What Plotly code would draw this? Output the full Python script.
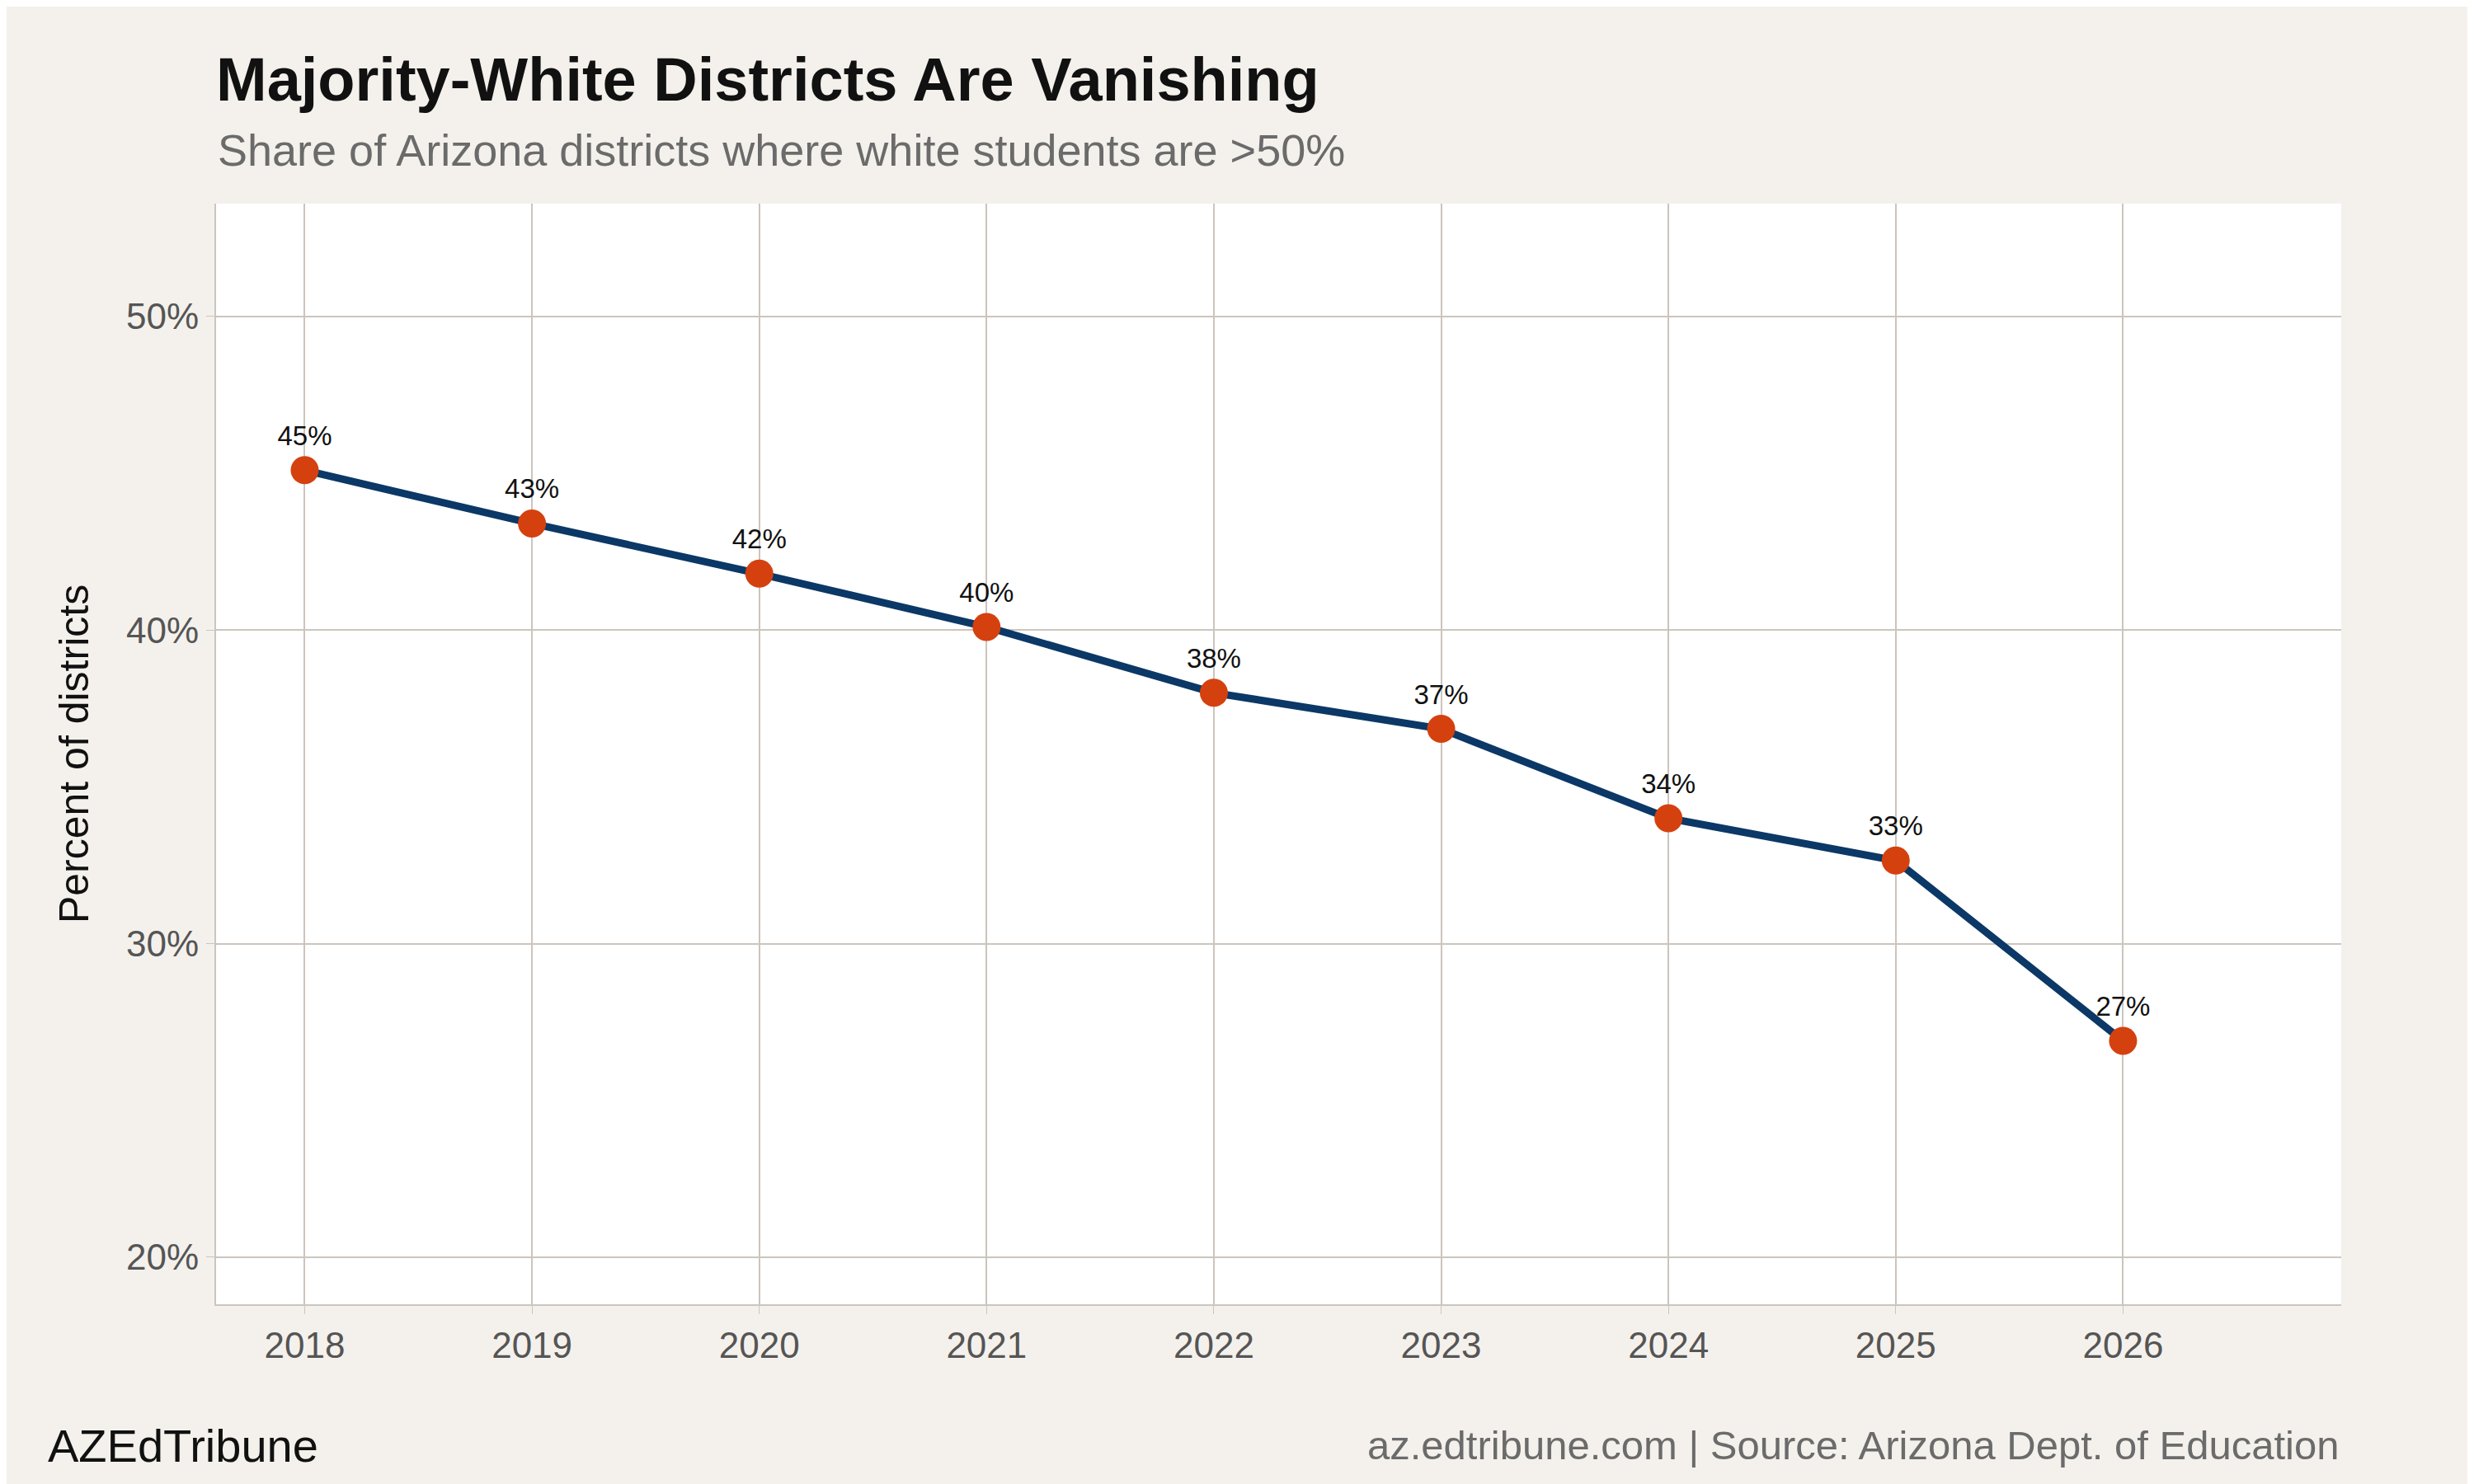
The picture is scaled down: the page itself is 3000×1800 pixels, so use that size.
import plotly.graph_objects as go

years = [2018, 2019, 2020, 2021, 2022, 2023, 2024, 2025, 2026]
share = [45.1, 43.4, 41.8, 40.1, 38.0, 36.85, 34.0, 32.65, 26.9]
labels = ["45%", "43%", "42%", "40%", "38%", "37%", "34%", "33%", "27%"]
y_ticks = [20, 30, 40, 50]
y_tick_text = ["20%", "30%", "40%", "50%"]

font = "Liberation Sans, Arial, sans-serif"
grid = "#ccc5bd"

fig = go.Figure()
fig.add_trace(go.Scatter(
    x=years, y=share, mode="lines+markers+text",
    line=dict(color="#0b3866", width=9),
    marker=dict(color="#d4410f", size=34),
    text=labels, textposition="top center",
    textfont=dict(family=font, size=33, color="#111111"),
    cliponaxis=False, showlegend=False,
))

fig.update_layout(
    width=3000, height=1800,
    paper_bgcolor="#f4f1ec", plot_bgcolor="#ffffff",
    margin=dict(l=254, r=169, t=239, b=226),
    font=dict(family=font),
    title=dict(
        text="<b>Majority-White Districts Are Vanishing</b>",
        x=254 / 3000, xanchor="left", y=1 - 88 / 1800, yanchor="middle",
        font=dict(size=74, color="#111111"),
    ),
)
fig.add_annotation(
    text="Share of Arizona districts where white students are >50%",
    xref="paper", yref="paper", x=0, y=1 + (239 - 174) / 1335,
    xanchor="left", yanchor="middle", showarrow=False,
    font=dict(size=54, color="#6b6b6b"),
)
fig.add_annotation(
    text="AZEdTribune", xref="paper", yref="paper",
    x=-(254 - 48) / 2577, y=-(1745 - 1574) / 1335,
    xanchor="left", yanchor="middle", showarrow=False,
    font=dict(size=56, color="#111111"),
)
fig.add_annotation(
    text="az.edtribune.com | Source: Arizona Dept. of Education",
    xref="paper", yref="paper", x=1, y=-(1745 - 1574) / 1335,
    xanchor="right", yanchor="middle", showarrow=False,
    font=dict(size=49, color="#6b6b6b"),
)

fig.update_xaxes(
    range=[2017.61, 2026.96], tickvals=years, ticks="outside",
    ticklen=10, tickcolor=grid, showgrid=True, gridcolor=grid, gridwidth=2,
    showline=True, linecolor=grid, linewidth=2, zeroline=False,
    tickfont=dict(size=44, color="#555555"),
)
fig.update_yaxes(
    range=[18.5, 53.6], tickvals=y_ticks, ticktext=y_tick_text, ticks="outside",
    ticklen=10, tickcolor=grid, showgrid=True, gridcolor=grid, gridwidth=2,
    showline=True, linecolor=grid, linewidth=2, zeroline=False,
    tickfont=dict(size=44, color="#555555"),
    title=dict(text="Percent of districts", font=dict(size=50, color="#111111"), standoff=30),
)

fig.write_html("out.html")
